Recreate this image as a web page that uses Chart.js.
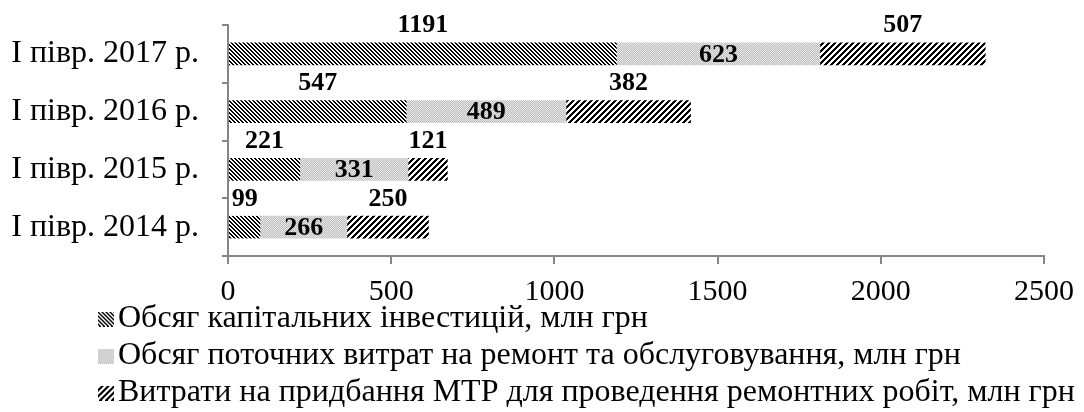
<!DOCTYPE html>
<html>
<head>
<meta charset="utf-8">
<script src="https://cdn.jsdelivr.net/npm/chart.js@4.4.1/dist/chart.umd.min.js"></script>
<style>
  html, body { margin: 0; padding: 0; background: #fff; }
  #wrap { width: 1084px; height: 412px; }
</style>
</head>
<body>
<div id="wrap"><canvas id="myChart" width="1084" height="412"></canvas></div>
<script>
// data
const categories = ['I півр. 2017 р.', 'I півр. 2016 р.', 'I півр. 2015 р.', 'I півр. 2014 р.'];
const capitalInvest = [1191, 547, 221, 99];
const repairCosts = [623, 489, 331, 266];
const mtrCosts = [507, 382, 121, 250];
const seriesNames = [
    'Обсяг капітальних інвестицій, млн грн',
    'Обсяг поточних витрат на ремонт та обслуговування, млн грн',
    'Витрати на придбання МТР для проведення ремонтних робіт, млн грн'
];
const xTicks = [0, 500, 1000, 1500, 2000, 2500];

const serif = "'Liberation Serif', 'Times New Roman', serif";
const axisColor = '#868686';

// small pixel patterns like the excel fills
function makeTile(size, fn) {
    var c = document.createElement('canvas');
    c.width = size; c.height = size;
    var g = c.getContext('2d');
    var img = g.createImageData(size, size);
    for (var y = 0; y < size; y++) {
        for (var x = 0; x < size; x++) {
            var v = fn(x, y);
            var k = (y * size + x) * 4;
            img.data[k] = v; img.data[k + 1] = v; img.data[k + 2] = v; img.data[k + 3] = 255;
        }
    }
    g.putImageData(img, 0, 0);
    return c;
}

var ctx = document.getElementById('myChart').getContext('2d');

var tiles = [
    makeTile(4, (x, y) => ((x - y + 8) % 4) < 2 ? 0 : 255),       // \\\\ stripes
    makeTile(2, (x, y) => ((x + y) % 2) ? 0xbd : 0xe8),             // light grey dots
    makeTile(6, (x, y) => ((x + y) % 6) < 3 ? 0 : 255)              // //// stripes
];
var fills = tiles.map(t => ctx.createPattern(t, 'repeat'));

// legend icons: pattern square on the right side of a wider transparent image
var icons = fills.map(f => {
    var c = document.createElement('canvas');
    c.width = 25; c.height = 15;
    var g = c.getContext('2d');
    g.fillStyle = f;
    g.fillRect(9, 0, 16, 15);
    return c;
});

const valueLabels = {
    id: 'valueLabels',
    afterDatasetsDraw(chart) {
        var c = chart.ctx;
        c.save();
        c.font = 'bold 26px ' + serif;
        c.fillStyle = '#000';
        c.textAlign = 'center';
        c.textBaseline = 'middle';
        chart.data.datasets.forEach((ds, i) => {
            var meta = chart.getDatasetMeta(i);
            meta.data.forEach((bar, j) => {
                var x = (bar.x + bar.base) / 2;
                var y = i === 1 ? bar.y + 1 : bar.y - bar.height / 2 - 17;
                c.fillText(ds.data[j], x, y);
            });
        });
        c.restore();
    }
};

// move the legend under the plot like in the original and let it use the full width
const legendPlace = {
    id: 'legendPlace',
    afterLayout(chart) {
        var lg = chart.legend;
        lg.left = 96;
        lg.top = 298;
        lg.right = chart.width;
        lg.bottom = chart.height;
        lg.width = lg.right - lg.left;
        lg.height = lg.bottom - lg.top;
    }
};

var myChart = new Chart(ctx, {
    type: 'bar',
    data: {
        labels: categories,
        datasets: [
            { label: seriesNames[0], data: capitalInvest, backgroundColor: fills[0], borderWidth: 0 },
            { label: seriesNames[1], data: repairCosts, backgroundColor: fills[1], borderWidth: 0 },
            { label: seriesNames[2], data: mtrCosts, backgroundColor: fills[2], borderWidth: 0 }
        ]
    },
    options: {
        indexAxis: 'y',
        responsive: false,
        animation: false,
        devicePixelRatio: 1,
        layout: { padding: { top: 25, right: 39, left: 0, bottom: 0 } },
        datasets: {
            bar: { barPercentage: 0.39, categoryPercentage: 1 }
        },
        scales: {
            x: {
                stacked: true,
                min: 0,
                max: 2500,
                afterBuildTicks: scale => { scale.ticks = xTicks.map(v => ({ value: v })); },
                afterFit: scale => { scale.height = 51; },
                grid: { drawOnChartArea: false, drawTicks: true, tickLength: 8, color: axisColor, lineWidth: 2 },
                border: { display: true, color: axisColor, width: 2 },
                ticks: {
                    color: '#000', font: { family: serif, size: 30 }, padding: 10, maxRotation: 0,
                    callback: v => String(v)
                }
            },
            y: {
                stacked: true,
                afterFit: scale => {
                    scale.width = 228;
                    scale.paddingTop = 0;
                    scale.paddingBottom = 0;
                },
                grid: { drawOnChartArea: false, drawTicks: true, tickLength: 6, color: axisColor, lineWidth: 2, offset: true },
                border: { display: true, color: axisColor, width: 2 },
                ticks: { color: '#000', font: { family: serif, size: 32 }, padding: 23 }
            }
        },
        plugins: {
            tooltip: { enabled: false },
            legend: {
                position: 'bottom',
                align: 'start',
                maxHeight: 105,
                labels: {
                    usePointStyle: true,
                    boxWidth: 1,
                    padding: 5,
                    color: '#000',
                    font: { family: serif, size: 32 },
                    generateLabels: chart => chart.data.datasets.map((ds, i) => ({
                        text: ds.label,
                        fillStyle: ds.backgroundColor,
                        strokeStyle: 'rgba(0,0,0,0)',
                        lineWidth: 0,
                        pointStyle: icons[i],
                        datasetIndex: i,
                        hidden: false,
                        fontColor: '#000'
                    }))
                }
            }
        }
    },
    plugins: [valueLabels, legendPlace]
});
</script>
</body>
</html>
